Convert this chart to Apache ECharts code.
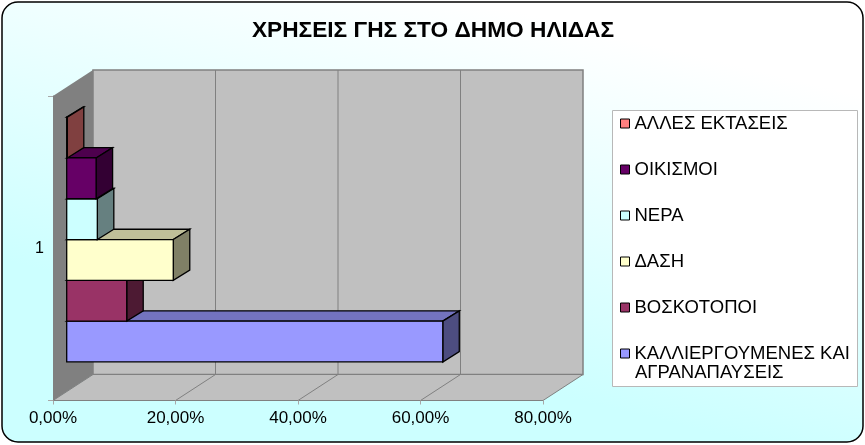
<!DOCTYPE html>
<html>
<head>
<meta charset="utf-8">
<style>html,body{margin:0;padding:0;background:#fff}#c{width:865px;height:445px}</style>
<script src="https://cdn.jsdelivr.net/npm/echarts@6/dist/echarts.min.js"></script>
</head>
<body>
<div id="c"></div>
<script>
const chartTitle = 'ΧΡΗΣΕΙΣ ΓΗΣ ΣΤΟ ΔΗΜΟ ΗΛΙΔΑΣ';
const categories = ['1'];
const seriesNames = ['ΚΑΛΛΙΕΡΓΟΥΜΕΝΕΣ ΚΑΙ', 'ΒΟΣΚΟΤΟΠΟΙ', 'ΔΑΣΗ', 'ΝΕΡΑ', 'ΟΙΚΙΣΜΟΙ', 'ΑΛΛΕΣ ΕΚΤΑΣΕΙΣ'];
const seriesValues = [61.4, 9.8, 17.4, 5.0, 4.8, 0.1];
const frontColors = ['#9999ff', '#993366', '#ffffcc', '#ccffff', '#660066', '#ff8080'];
const topColors = ['#7373bf', '#73264d', '#bfbf99', '#99bfbf', '#4d004d', '#bf6060'];
const sideColors = ['#4d4d80', '#4d1a33', '#808066', '#668080', '#330033', '#804040'];
const axisTicks = [0, 20, 40, 60, 80];

const WALL_DX = 40, WALL_DY = -26;
const BAR_SHIFT_X = 13.7, BAR_SHIFT_Y = -8.7;
const BAR_DX = 16.5, BAR_DY = -10.3;
const BAR_BAND = 0.134;

function poly(points, fill, stroke, lw) {
  return { type: 'polygon', shape: { points }, style: { fill, stroke: stroke || 'none', lineWidth: lw || 0 } };
}
function line(x1, y1, x2, y2, color) {
  return { type: 'line', shape: { x1, y1, x2, y2 }, style: { stroke: color, lineWidth: 1, fill: 'none' } };
}
function renderWalls(params, api) {
  const band = api.size([0, 1])[1];
  const cy = api.coord([0, 0])[1];
  const top = cy - band / 2, bot = cy + band / 2;
  const l = api.coord([axisTicks[0], 0])[0], r = api.coord([axisTicks[axisTicks.length - 1], 0])[0];
  const children = [
    poly([[l + WALL_DX, top + WALL_DY], [r + WALL_DX, top + WALL_DY], [r + WALL_DX, bot + WALL_DY], [l + WALL_DX, bot + WALL_DY]], '#c0c0c0', '#808080', 1.5),
    poly([[l, bot], [l + WALL_DX, bot + WALL_DY], [r + WALL_DX, bot + WALL_DY], [r, bot]], '#c0c0c0', '#808080', 1),
    poly([[l, top], [l + WALL_DX, top + WALL_DY], [l + WALL_DX, bot + WALL_DY], [l, bot]], '#808080')
  ];
  axisTicks.slice(1, -1).forEach(t => {
    const x = api.coord([t, 0])[0];
    children.push(line(x + WALL_DX, top + WALL_DY, x + WALL_DX, bot + WALL_DY, '#808080'));
    children.push(line(x, bot, x + WALL_DX, bot + WALL_DY, '#808080'));
  });
  return { type: 'group', children };
}
function makeBarRenderer(i) {
  return function (params, api) {
    const band = api.size([0, 1])[1];
    const h = band * BAR_BAND;
    const cy = api.coord([0, 0])[1] + BAR_SHIFT_Y;
    const bot = cy + (3 - i) * h, top = bot - h;
    const x0 = api.coord([0, 0])[0] + BAR_SHIFT_X;
    const x1 = api.coord([api.value(0), 0])[0] + BAR_SHIFT_X;
    const dx = BAR_DX, dy = BAR_DY;
    return { type: 'group', children: [
      poly([[x0, top], [x0 + dx, top + dy], [x1 + dx, top + dy], [x1, top]], topColors[i], '#000', 1.3),
      poly([[x1, top], [x1 + dx, top + dy], [x1 + dx, bot + dy], [x1, bot]], sideColors[i], '#000', 1.3),
      poly([[x0, top], [x1, top], [x1, bot], [x0, bot]], frontColors[i], '#000', 1.3)
    ] };
  };
}

const series = [{
  name: 'walls', type: 'custom', silent: true, clip: false, z: 1,
  data: [[0, 0]], encode: { x: 0, y: 1 }, renderItem: renderWalls
}];
seriesNames.forEach((name, i) => series.push({
  name, type: 'custom', clip: false, z: 2 + i,
  itemStyle: { color: frontColors[i] },
  data: [[seriesValues[i], 0]], encode: { x: 0, y: 1 }, renderItem: makeBarRenderer(i)
}));

const font = '"Liberation Sans", Arial, sans-serif';
const chart = echarts.init(document.getElementById('c'), null, { renderer: 'canvas' });
chart.setOption({
  animation: false,
  backgroundColor: '#fff',
  textStyle: { fontFamily: font },
  title: {
    text: chartTitle, left: 428, top: 14, textAlign: 'center',
    textStyle: { fontFamily: font, fontSize: 22.7, fontWeight: 'bold', color: '#000' }
  },
  grid: { left: 53, top: 96, width: 490, height: 304.5 },
  xAxis: {
    type: 'value', min: 0, max: 80, interval: 20, z: 3,
    axisLine: { show: true, lineStyle: { color: '#808080', width: 1 } },
    axisTick: { show: true, length: 4, lineStyle: { color: '#a8a8a8' } },
    splitLine: { show: false },
    axisLabel: {
      margin: 9, fontFamily: font, fontSize: 17, color: '#000',
      formatter: v => v.toFixed(2).replace('.', ',') + '%'
    }
  },
  yAxis: {
    type: 'category', data: categories, z: 3,
    axisLine: { show: true, lineStyle: { color: '#808080', width: 1 } },
    axisTick: { show: true, length: 5, lineStyle: { color: '#a8a8a8' } },
    axisLabel: { margin: 9, fontFamily: font, fontSize: 16, color: '#000' }
  },
  legend: {
    orient: 'vertical', left: 620, top: 114, padding: 0,
    itemWidth: 9, itemHeight: 9, itemGap: 27, icon: 'rect',
    data: seriesNames.slice().reverse(),
    itemStyle: { borderColor: '#000', borderWidth: 1 },
    selectedMode: false,
    textStyle: { fontFamily: font, fontSize: 18.5, color: '#000' }
  },
  graphic: [
    { type: 'rect', z: -10, shape: { x: 2, y: 2, width: 861, height: 440, r: 16 },
      style: { stroke: '#000', lineWidth: 1.5,
        fill: new echarts.graphic.LinearGradient(0.55, 0, 0.45, 0.8, [
          { offset: 0, color: '#ffffff' }, { offset: 1, color: '#ccffff' }]) } },
    { type: 'rect', z: -9, shape: { x: 612.5, y: 110.5, width: 245, height: 276 },
      style: { fill: '#fff', stroke: '#b8b8b8', lineWidth: 1 } },
    { type: 'text', z: 5, x: 635, y: 372.5,
      style: { text: 'ΑΓΡΑΝΑΠΑΥΣΕΙΣ', fontFamily: font, fontSize: 18.5, fill: '#000', verticalAlign: 'middle' } }
  ],
  series
});
</script>
</body>
</html>
